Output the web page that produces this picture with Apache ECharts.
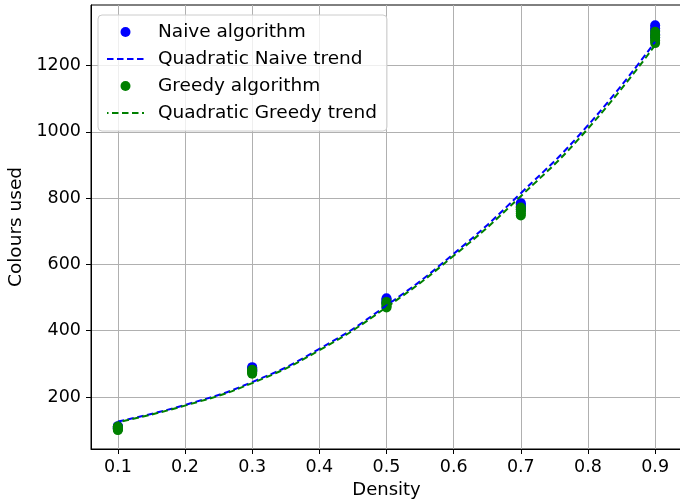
<!DOCTYPE html>
<html>
<head>
<meta charset="utf-8">
<script src="https://cdn.jsdelivr.net/npm/echarts@6/dist/echarts.min.js"></script>
<style>
  html, body { margin: 0; padding: 0; background: #fff; }
  #chart { width: 680px; height: 499px; }
</style>
</head>
<body>
<div id="chart"></div>
<script>
// Graph densities tested
const densities = [0.1, 0.3, 0.5, 0.7, 0.9];

// Colours used by each algorithm, several runs per density
const naiveRuns = [
  [104, 106, 108, 110, 112],
  [278, 281, 284, 287, 290],
  [482, 486, 490, 494, 498],
  [765, 770, 775, 780, 785],
  [1285, 1295, 1305, 1313, 1322]
];
const greedyRuns = [
  [100, 102, 105, 108, 111],
  [270, 273, 276, 279, 282],
  [470, 474, 478, 482, 487],
  [748, 754, 760, 766, 772],
  [1268, 1276, 1284, 1292, 1302]
];

// Quadratic trend curves sampled along the density axis
const trendX = [0.1, 0.2, 0.3, 0.4, 0.5, 0.6, 0.7, 0.8, 0.9];
const naiveTrend = [126, 176, 245, 345, 476, 632, 815, 1020, 1272];
const greedyTrend = [124, 174, 242, 341, 471, 626, 806, 1010, 1262];

// Axis ticks
const xTicks = [0.1, 0.2, 0.3, 0.4, 0.5, 0.6, 0.7, 0.8, 0.9];
const yTicks = [200, 400, 600, 800, 1000, 1200];

const runPoints = runs => densities.flatMap((d, i) => runs[i].map(v => [d, v]));
const curve = ys => trendX.map((x, i) => [x, ys[i]]);

const FONT = 'DejaVu Sans';
const chart = echarts.init(document.getElementById('chart'), null, { renderer: 'canvas' });

chart.setOption({
  animation: false,
  backgroundColor: '#fff',
  textStyle: { fontFamily: FONT },
  grid: {
    left: 91, right: -2, top: 5, bottom: 50,
    outerBoundsMode: 'none',
    containLabel: false,
    show: true, borderColor: '#000', borderWidth: 1
  },
  xAxis: {
    type: 'value',
    min: 0.06, max: 0.94,
    splitNumber: 9,
    name: 'Density',
    nameLocation: 'middle',
    nameGap: 32,
    nameTextStyle: { fontFamily: FONT, fontSize: 18, color: '#000' },
    axisLine: { show: true, onZero: false, lineStyle: { color: '#000', width: 1 } },
    axisTick: { show: true, length: 5, customValues: xTicks, lineStyle: { color: '#000' } },
    axisLabel: {
      customValues: xTicks,
      margin: 9, fontFamily: FONT, fontSize: 17.5, color: '#000',
      formatter: v => v.toFixed(1)
    },
    splitLine: { show: true, lineStyle: { color: '#b0b0b0', width: 1 } }
  },
  yAxis: {
    type: 'value',
    min: 43, max: 1383,
    splitNumber: 7,
    name: 'Colours used',
    nameLocation: 'middle',
    nameGap: 63,
    nameTextStyle: { fontFamily: FONT, fontSize: 18.5, color: '#000' },
    axisLine: { show: true, onZero: false, lineStyle: { color: '#000', width: 1 } },
    axisTick: { show: true, length: 5, customValues: yTicks, lineStyle: { color: '#000' } },
    axisLabel: {
      customValues: yTicks,
      margin: 10, fontFamily: FONT, fontSize: 17.5, color: '#000',
      formatter: v => String(v)
    },
    splitLine: { show: true, lineStyle: { color: '#b0b0b0', width: 1 } }
  },
  legend: {
    orient: 'vertical',
    left: 98, top: 15,
    padding: [7, 10, 8, 8],
    itemWidth: 37, itemHeight: 10,
    itemGap: 7,
    backgroundColor: 'rgba(255,255,255,0.8)',
    borderColor: '#cccccc', borderWidth: 1, borderRadius: 4,
    textStyle: { fontFamily: FONT, fontSize: 18.5, color: '#000', lineHeight: 20, padding: [0, 0, 0, 9] },
    data: [
      { name: 'Naive algorithm' },
      { name: 'Quadratic Naive trend', itemStyle: { opacity: 0 } },
      { name: 'Greedy algorithm' },
      { name: 'Quadratic Greedy trend', itemStyle: { opacity: 0 } }
    ]
  },
  series: [
    {
      name: 'Naive algorithm', type: 'scatter',
      data: runPoints(naiveRuns),
      symbol: 'circle', symbolSize: 10,
      itemStyle: { color: '#0000ff', opacity: 1 }
    },
    {
      name: 'Quadratic Naive trend', type: 'line',
      data: curve(naiveTrend),
      smooth: true, showSymbol: false, symbol: 'none',
      lineStyle: { color: '#0000ff', width: 2, type: [6.5, 3.5] },
      itemStyle: { color: '#0000ff' }
    },
    {
      name: 'Greedy algorithm', type: 'scatter',
      data: runPoints(greedyRuns),
      symbol: 'circle', symbolSize: 10,
      itemStyle: { color: '#008000', opacity: 1 }
    },
    {
      name: 'Quadratic Greedy trend', type: 'line',
      data: curve(greedyTrend),
      smooth: true, showSymbol: false, symbol: 'none',
      lineStyle: { color: '#008000', width: 2, type: [6.5, 3.5], dashOffset: 5 },
      itemStyle: { color: '#008000' }
    }
  ]
});
</script>
</body>
</html>
